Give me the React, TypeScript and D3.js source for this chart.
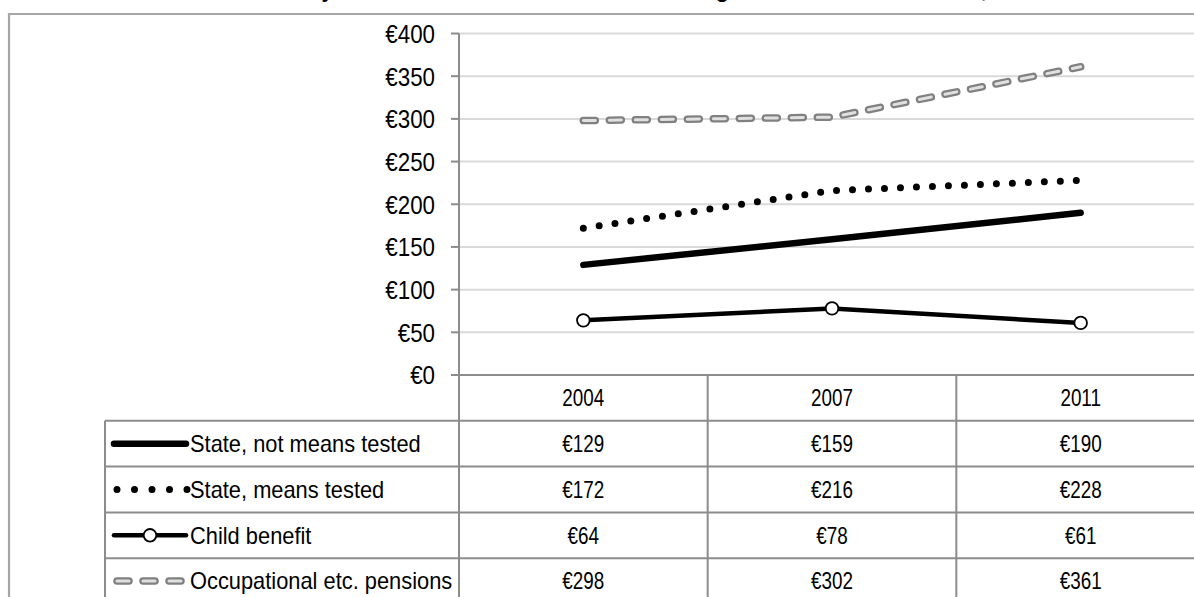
import React from 'react';
import * as d3 from 'd3';

const YEARS = ['2004', '2007', '2011'];
const NOT_MEANS_TESTED = [129, 159, 190];
const MEANS_TESTED = [172, 216, 228];
const CHILD_BENEFIT = [64, 78, 61];
const OCCUPATIONAL = [298, 302, 361];
const Y_TICKS = [0, 50, 100, 150, 200, 250, 300, 350, 400];
const SERIES_NAMES = ['State, not means tested', 'State, means tested', 'Child benefit', 'Occupational etc. pensions'];
const TITLE = 'Mean weekly income from each source for those aged 65 and over in Ireland, 2004-2011';

const W = 1194;
const H = 597;
const FONT = '"Liberation Sans", Arial, sans-serif';

const euro = (v: number) => `€${v}`;

// text squeezed horizontally to mimic the narrow original face
const T = ({ x, y, sx = 0.88, size = 23, anchor = 'middle', children }: any) => (
  <text transform={`translate(${x},${y}) scale(${sx},1)`} dy="0.36em" textAnchor={anchor} fontSize={size} fill="#000">
    {children}
  </text>
);

const App = () => {
  const plotLeft = 459;
  const x = d3.scaleBand<string>().domain(YEARS).range([plotLeft, 1205]);
  const y = d3.scaleLinear().domain([0, 400]).range([375, 33.5]);
  const rows = d3.scaleBand<string>().domain(['head', ...SERIES_NAMES]).range([375, 375 + 5 * 45.8]);
  const cx = (d: string) => (x(d) as number) + x.bandwidth() / 2;

  const series = [
    { name: SERIES_NAMES[0], values: NOT_MEANS_TESTED },
    { name: SERIES_NAMES[1], values: MEANS_TESTED },
    { name: SERIES_NAMES[2], values: CHILD_BENEFIT },
    { name: SERIES_NAMES[3], values: OCCUPATIONAL },
  ];

  const line = d3.line<number>().x((_, i) => cx(YEARS[i])).y(d => y(d));
  const lineColor = '#8c8c8c';

  // legend swatch per series, drawn at row centre
  const swatch = (i: number, cy: number) => {
    const x0 = 114, x1 = 186;
    if (i === 0) return <line x1={x0} x2={x1} y1={cy} y2={cy} stroke="#000" strokeWidth={6.5} strokeLinecap="round" />;
    if (i === 1) return <line x1={117} x2={190} y1={cy} y2={cy} stroke="#000" strokeWidth={7} strokeDasharray="0 17.5" strokeLinecap="round" />;
    if (i === 2) return (
      <g>
        <line x1={x0} x2={x1} y1={cy} y2={cy} stroke="#000" strokeWidth={4.5} strokeLinecap="round" />
        <circle cx={150} cy={cy} r={6.3} fill="#fff" stroke="#000" strokeWidth={1.8} />
      </g>
    );
    return (
      <g>
        <line x1={117} x2={184} y1={cy} y2={cy} stroke="#808080" strokeWidth={7.5} strokeDasharray="12 14" strokeLinecap="round" />
        <line x1={117} x2={184} y1={cy} y2={cy} stroke="#e0e0e0" strokeWidth={3} strokeDasharray="12 14" strokeLinecap="round" />
      </g>
    );
  };

  return (
    <svg width={W} height={H} style={{ position: 'absolute', left: 0, top: 0, background: '#fff' }} fontFamily={FONT}>
      <rect width={W} height={H} fill="#fff" />
      {/* title sits mostly above the frame, only descenders show */}
      <text x={202} y={-3.5} fontSize={21.5} fontWeight="bold" fill="#000">{TITLE}</text>

      {/* outer chart border */}
      <path d={`M9,${H} V14 H${W}`} fill="none" stroke="#a6a6a6" strokeWidth={2.2} />

      {/* gridlines */}
      {Y_TICKS.filter(t => t > 0).map(t => (
        <line key={t} x1={plotLeft} x2={W} y1={y(t)} y2={y(t)} stroke="#d9d9d9" strokeWidth={2} />
      ))}

      {/* y ticks and labels */}
      {Y_TICKS.map(t => (
        <g key={t}>
          <line x1={451} x2={plotLeft} y1={y(t)} y2={y(t)} stroke={lineColor} strokeWidth={2} />
          <T x={435} y={y(t)} size={26} sx={0.86} anchor="end">{euro(t)}</T>
        </g>
      ))}

      {/* table grid */}
      <line x1={plotLeft} x2={W} y1={375} y2={375} stroke={lineColor} strokeWidth={2} />
      {SERIES_NAMES.map(n => (
        <line key={n} x1={105} x2={W} y1={rows(n)} y2={rows(n)} stroke={lineColor} strokeWidth={2} />
      ))}
      <line x1={105} x2={105} y1={rows(SERIES_NAMES[0])} y2={H} stroke={lineColor} strokeWidth={2} />
      <line x1={plotLeft} x2={plotLeft} y1={33.5} y2={H} stroke={lineColor} strokeWidth={2} />
      {YEARS.slice(1).map(yr => (
        <line key={yr} x1={x(yr)} x2={x(yr)} y1={375} y2={H} stroke={lineColor} strokeWidth={2} />
      ))}

      {/* header */}
      {YEARS.map(yr => (
        <T key={yr} x={cx(yr)} y={(rows('head') as number) + rows.bandwidth() / 2} sx={0.82}>{yr}</T>
      ))}

      {/* body rows */}
      {series.map((s, i) => {
        const cy = (rows(s.name) as number) + rows.bandwidth() / 2;
        return (
          <g key={s.name}>
            {swatch(i, cy)}
            <T x={190} y={cy} sx={0.95} anchor="start">{s.name}</T>
            {s.values.map((v, j) => (
              <T key={j} x={cx(YEARS[j])} y={cy} sx={0.82}>{euro(v)}</T>
            ))}
          </g>
        );
      })}

      {/* series lines */}
      <path d={line(OCCUPATIONAL) as string} fill="none" stroke="#808080" strokeWidth={7.5} strokeDasharray="12 14" strokeLinecap="round" />
      <path d={line(OCCUPATIONAL) as string} fill="none" stroke="#e0e0e0" strokeWidth={3} strokeDasharray="12 14" strokeLinecap="round" />
      <path d={line(MEANS_TESTED) as string} fill="none" stroke="#000" strokeWidth={7} strokeDasharray="0 16" strokeLinecap="round" />
      <path d={line(NOT_MEANS_TESTED) as string} fill="none" stroke="#000" strokeWidth={6.5} strokeLinecap="round" />
      <path d={line(CHILD_BENEFIT) as string} fill="none" stroke="#000" strokeWidth={4.5} />
      {CHILD_BENEFIT.map((v, i) => (
        <circle key={i} cx={cx(YEARS[i])} cy={y(v)} r={6.3} fill="#fff" stroke="#000" strokeWidth={1.8} />
      ))}
    </svg>
  );
};

export default App;
